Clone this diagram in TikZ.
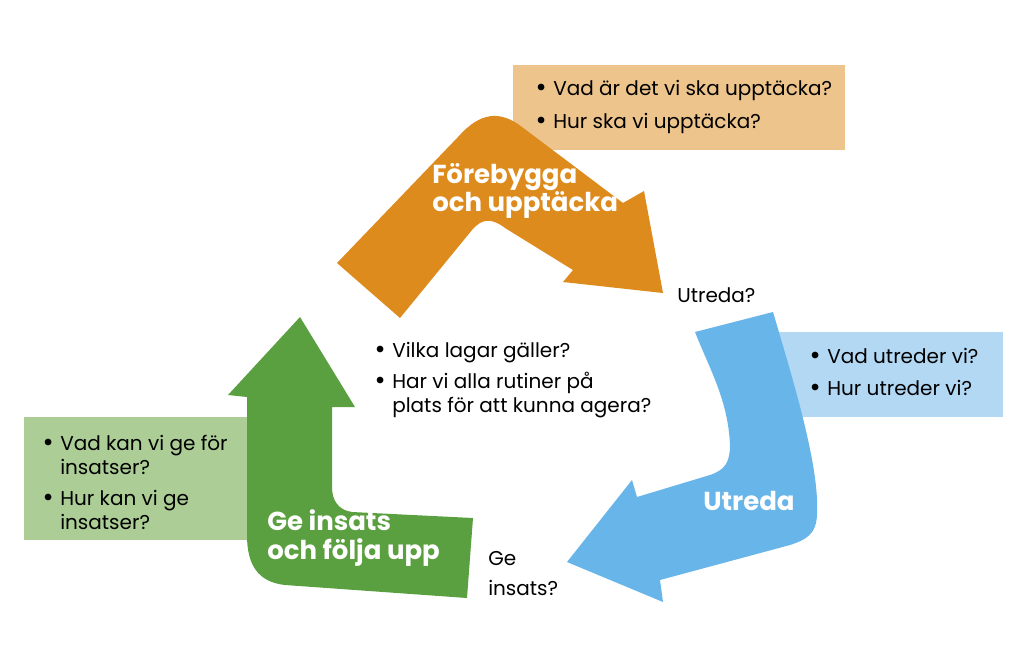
\documentclass[tikz,border=0pt]{standalone}
\usepackage{fontspec}
\setmainfont{Poppins}
\definecolor{prevorange}{RGB}{222,139,30}
\definecolor{prevbox}{RGB}{237,196,140}
\definecolor{utrblue}{RGB}{104,181,234}
\definecolor{utrbox}{RGB}{178,216,244}
\definecolor{insgreen}{RGB}{90,160,64}
\definecolor{insbox}{RGB}{172,206,150}
\newcommand{\qpt}[1]{\begin{tabular}[t]{@{}l@{}l@{}}\makebox[11.25pt][l]{\hspace*{-2pt}\raisebox{-0.07em}{\scalebox{1.35}{•}}}&#1\end{tabular}}
\newcommand{\lines}[1]{\begin{tabular}[t]{@{}l@{}}#1\end{tabular}}
\tikzset{
  qtext/.style={anchor=base west, inner sep=0pt, font=\fontsize{15}{18}\selectfont},
  stage/.style={anchor=base west, inner sep=0pt, text=white, font=\fontsize{19.5}{21.5}\selectfont\bfseries}
}
\begin{document}
\begin{tikzpicture}[x=0.75pt, y=-0.75pt]
\fill[white] (0,0) rectangle (1024,654);
\useasboundingbox (0,0) rectangle (1024,654);

% question boxes
\fill[prevbox] (513,65) rectangle (845,150);
\fill[utrbox] (760,332) rectangle (1003,417);
\fill[insbox] (24,417) rectangle (260,540);

% orange arrow
\fill[prevorange] (337,263) -- (458,137) .. controls (480,112) and (500,110) .. (522,127)
  -- (623,203) -- (644,191) -- (663,293) -- (563,282) -- (573,270)
  -- (505,228) .. controls (492,218) and (482,218) .. (472,230) -- (400,318) -- cycle;

% blue arrow
\fill[utrblue] (695,332) -- (773,312) .. controls (790,370) and (815,450) .. (817,500)
  -- (817,513) .. controls (817,535) and (805,540) .. (790,545)
  -- (660,580) -- (663,602) -- (567,562) -- (632,480) -- (637,497)
  -- (710,475) .. controls (725,470) and (730,462) .. (730,445)
  .. controls (728,400) and (710,370) .. (695,332) -- cycle;

% green arrow
\fill[insgreen] (300,317) -- (355,407) -- (332,407) -- (332,487)
  .. controls (332,500) and (338,510) .. (352,512) -- (473,518) -- (467,598)
  -- (285,585) .. controls (258,582) and (247,565) .. (247,535)
  -- (247,397) -- (228,395) -- cycle;

% stage labels
\node[stage] (prev) at (432,183) {\lines{Förebygga\\och upptäcka}};
\node[stage] (utreda) at (703,510) {Utreda};
\node[stage] (geins) at (267,530) {\lines{Ge insats\\och följa upp}};

% questions
\node[qtext] (q1) at (538,95) {\qpt{Vad är det vi ska upptäcka?}};
\node[qtext] (q2) at (538,128) {\qpt{Hur ska vi upptäcka?}};
\node[qtext] (utr) at (677,302) {Utreda?};
\node[qtext] (q3) at (812,363) {\qpt{Vad utreder vi?}};
\node[qtext] (q4) at (812,395) {\qpt{Hur utreder vi?}};
\node[qtext] (q5) at (377,357) {\qpt{Vilka lagar gäller?}};
\node[qtext] (q6) at (377,388) {\qpt{Har vi alla rutiner på\\ & plats för att kunna agera?}};
\node[qtext] (q7) at (45,450) {\qpt{Vad kan vi ge för\\ & insatser?}};
\node[qtext] (q8) at (45,505) {\qpt{Hur kan vi ge\\ & insatser?}};
\node[qtext] (gei) at (488,565) {\lines{Ge\\[4.5pt]insats?}};
\end{tikzpicture}
\end{document}
